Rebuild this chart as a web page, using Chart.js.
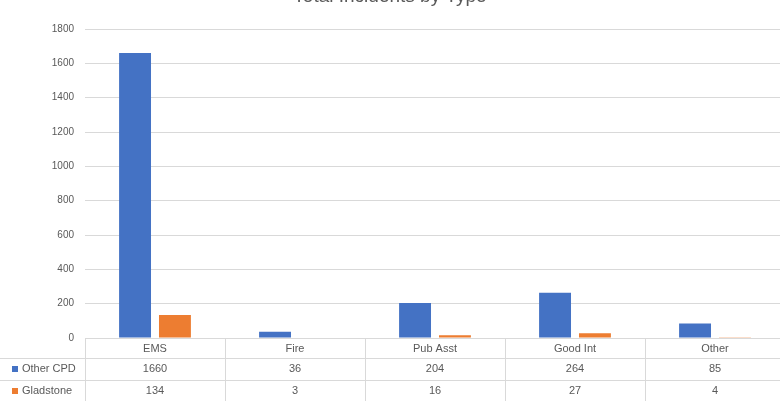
<!DOCTYPE html>
<html>
<head>
<meta charset="utf-8">
<style>
  html, body { margin: 0; padding: 0; background: #fff; overflow: hidden; }
  #wrap { width: 780px; height: 401px; overflow: hidden; position: relative; }
  #chart { position: absolute; left: 0; top: 0; filter: blur(0.5px); }
</style>
<script src="https://cdn.jsdelivr.net/npm/chart.js@4/dist/chart.umd.min.js"></script>
</head>
<body>
<div id="wrap"><canvas id="chart" width="790" height="401"></canvas></div>
<script>
const chartTitle = 'Total Incidents by Type';
const categories = ['EMS', 'Fire', 'Pub Asst', 'Good Int', 'Other'];
const seriesNames = ['Other CPD', 'Gladstone'];
const otherCpd = [1660, 36, 204, 264, 85];
const gladstone = [134, 3, 16, 27, 4];
const yTicks = [0, 200, 400, 600, 800, 1000, 1200, 1400, 1600, 1800];

const COLORS = ['#4472C4', '#ED7D31'];
const TEXT = '#595959';
const GRID = '#D9D9D9';
const FONT = '"Liberation Sans", Arial, sans-serif';

// Title, data table and legend keys under the plot
const tablePlugin = {
  id: 'dataTable',
  afterDraw(chart) {
    const ctx = chart.ctx;
    const area = chart.chartArea;
    const xs = chart.scales.x;
    const half = (xs.getPixelForValue(1) - xs.getPixelForValue(0)) / 2;
    const rowH = 22;
    const top = area.bottom;
    const hdrBottom = top + 20;
    ctx.save();
    // title
    ctx.fillStyle = TEXT;
    ctx.font = '19px ' + FONT;
    ctx.textAlign = 'center';
    ctx.textBaseline = 'middle';
    ctx.fillText(chartTitle, 390, -3);

    ctx.strokeStyle = GRID;
    ctx.lineWidth = 1;
    // horizontal table rules
    [hdrBottom, hdrBottom + rowH].forEach(y => {
      ctx.beginPath();
      ctx.moveTo(0, Math.round(y) + 0.5);
      ctx.lineTo(chart.width, Math.round(y) + 0.5);
      ctx.stroke();
    });
    // vertical table rules at category boundaries
    const bounds = [xs.getPixelForValue(0) - half];
    categories.forEach((c, i) => bounds.push(xs.getPixelForValue(i) + half));
    bounds.forEach(x => {
      ctx.beginPath();
      ctx.moveTo(Math.round(x) + 0.5, top);
      ctx.lineTo(Math.round(x) + 0.5, chart.height);
      ctx.stroke();
    });
    // values and legend keys
    const rows = [otherCpd, gladstone];
    ctx.font = '11px ' + FONT;
    rows.forEach((vals, r) => {
      const yc = hdrBottom + rowH * r + rowH / 2;
      ctx.fillStyle = COLORS[r];
      ctx.fillRect(12, yc - 3, 6, 6);
      ctx.fillStyle = TEXT;
      ctx.textAlign = 'left';
      ctx.fillText(seriesNames[r], 22, yc);
      ctx.textAlign = 'center';
      vals.forEach((v, i) => ctx.fillText(String(v), xs.getPixelForValue(i), yc));
    });
    ctx.restore();
  }
};

new Chart(document.getElementById('chart'), {
  type: 'bar',
  data: {
    labels: categories,
    datasets: [
      { label: seriesNames[0], data: otherCpd, backgroundColor: COLORS[0],
        categoryPercentage: 0.57, barPercentage: 0.8 },
      { label: seriesNames[1], data: gladstone, backgroundColor: COLORS[1],
        categoryPercentage: 0.57, barPercentage: 0.8 }
    ]
  },
  options: {
    responsive: false,
    animation: false,
    layout: { padding: { top: 29, right: 5, bottom: 43, left: 0 } },
    plugins: {
      legend: { display: false },
      title: { display: false },
      tooltip: { enabled: false }
    },
    scales: {
      x: {
        grid: { display: false, drawTicks: false },
        border: { display: false },
        ticks: { color: TEXT, font: { family: FONT, size: 11 }, padding: 4, maxRotation: 0 },
        afterFit(s) { s.height = 20; }
      },
      y: {
        min: 0, max: 1800,
        afterBuildTicks(s) { s.ticks = yTicks.map(v => ({ value: v })); },
        grid: { color: GRID, drawTicks: false },
        border: { display: false },
        ticks: { color: TEXT, font: { family: FONT, size: 10 }, padding: 11,
                 callback: v => String(v) },
        afterFit(s) { s.width = 85; }
      }
    }
  },
  plugins: [tablePlugin]
});
</script>
</body>
</html>
